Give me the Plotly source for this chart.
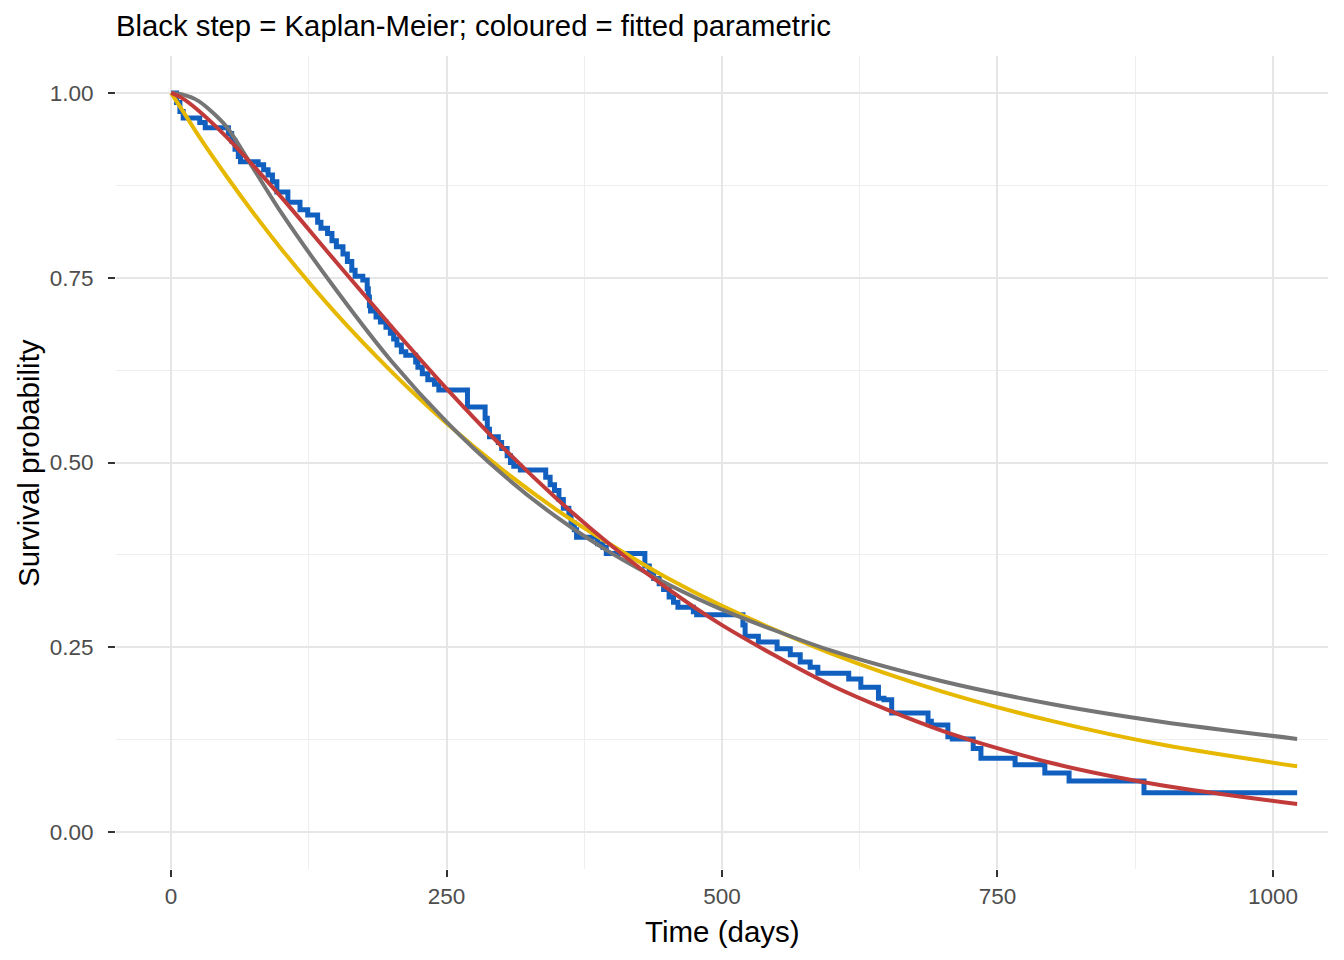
import plotly.graph_objects as go

# Kaplan-Meier step curve (time in days, survival after each drop)
km_time = [0, 5, 8, 11, 26, 31, 52, 55, 58, 61, 63, 79, 84, 88, 92, 96, 106, 117, 124, 133,
           136, 142, 146, 150, 156, 160, 164, 167, 174, 178, 179, 180, 181, 186, 190, 195, 199,
           202, 205, 209, 213, 222, 224, 228, 233, 239, 243, 269, 285, 287, 289, 297, 300, 305,
           308, 311, 317, 340, 344, 348, 352, 356, 361, 363, 366, 368, 387, 392, 395, 430, 434,
           438, 443, 447, 452, 456, 460, 474, 477, 519, 521, 533, 550, 562, 571, 580, 587, 615,
           626, 642, 647, 654, 687, 690, 705, 709, 728, 735, 766, 793, 815, 883, 1022]
km_surv = [1.000, 0.987, 0.975, 0.966, 0.960, 0.953, 0.945, 0.935, 0.924, 0.914, 0.907, 0.903,
           0.896, 0.889, 0.880, 0.866, 0.852, 0.842, 0.835, 0.825, 0.817, 0.810, 0.800, 0.792,
           0.782, 0.772, 0.760, 0.752, 0.747, 0.735, 0.724, 0.712, 0.705, 0.697, 0.690, 0.683,
           0.675, 0.667, 0.659, 0.650, 0.645, 0.636, 0.629, 0.620, 0.612, 0.606, 0.598, 0.575,
           0.560, 0.545, 0.535, 0.527, 0.519, 0.509, 0.500, 0.495, 0.490, 0.480, 0.470, 0.462,
           0.450, 0.438, 0.428, 0.418, 0.409, 0.399, 0.390, 0.385, 0.377, 0.360, 0.350, 0.343,
           0.336, 0.328, 0.318, 0.311, 0.304, 0.298, 0.294, 0.280, 0.265, 0.257, 0.248, 0.240,
           0.230, 0.223, 0.215, 0.207, 0.196, 0.181, 0.179, 0.161, 0.150, 0.145, 0.129, 0.126,
           0.113, 0.100, 0.091, 0.080, 0.069, 0.053, 0.053]

# Fitted parametric curves
fit_time = [0, 10, 25, 50, 75, 100, 150, 200, 250, 300, 350, 400, 450, 500, 600, 700, 800, 900, 1022]
fit_yellow = [1.000, 0.977, 0.942, 0.888, 0.837, 0.789, 0.701, 0.623, 0.553, 0.491, 0.436, 0.388,
              0.344, 0.306, 0.241, 0.190, 0.150, 0.118, 0.089]
fit_grey = [1.000, 0.998, 0.989, 0.955, 0.897, 0.838, 0.733, 0.637, 0.555, 0.485, 0.426, 0.377,
            0.336, 0.301, 0.245, 0.204, 0.173, 0.149, 0.126]
fit_red = [1.000, 0.993, 0.976, 0.941, 0.901, 0.859, 0.771, 0.684, 0.600, 0.522, 0.451, 0.387,
           0.330, 0.280, 0.198, 0.137, 0.093, 0.063, 0.038]

x_ticks = [0, 250, 500, 750, 1000]
y_ticks = [0.0, 0.25, 0.5, 0.75, 1.0]
y_ticklabels = ["0.00", "0.25", "0.50", "0.75", "1.00"]

FONT = "Liberation Sans, Arial, Helvetica, sans-serif"

fig = go.Figure()
fig.add_trace(go.Scatter(x=km_time, y=km_surv, mode="lines", line=dict(color="#1160BF", width=5, shape="hv"),
                         hoverinfo="skip"))
fig.add_trace(go.Scatter(x=fit_time, y=fit_yellow, mode="lines",
                         line=dict(color="#E7B800", width=4, shape="spline", smoothing=0.8)))
fig.add_trace(go.Scatter(x=fit_time, y=fit_grey, mode="lines",
                         line=dict(color="#757575", width=4, shape="spline", smoothing=0.8)))
fig.add_trace(go.Scatter(x=fit_time, y=fit_red, mode="lines",
                         line=dict(color="#C23B3B", width=4, shape="spline", smoothing=0.8)))

fig.update_layout(
    width=1344, height=960,
    margin=dict(l=116, r=16, t=56, b=91),
    paper_bgcolor="white", plot_bgcolor="white",
    showlegend=False,
    font=dict(family=FONT, color="black"),
    title=dict(text="Black step = Kaplan-Meier; coloured = fitted parametric",
               x=116 / 1344, xanchor="left", xref="container",
               y=1 - 26 / 960, yanchor="middle", yref="container",
               font=dict(size=29.3, color="black", family=FONT)),
    annotations=[
        dict(text="Survival probability", xref="paper", yref="paper",
             x=(28 - 116) / 1212, y=(869 - 463) / 813, xanchor="center", yanchor="middle",
             textangle=-90, showarrow=False, font=dict(size=29.5, color="black", family=FONT)),
        dict(text="Time (days)", xref="paper", yref="paper",
             x=0.5, y=(869 - 931) / 813, xanchor="center", yanchor="middle",
             showarrow=False, font=dict(size=29.5, color="black", family=FONT)),
    ],
)
fig.update_xaxes(
    range=[-50, 1050], tickvals=x_ticks, ticktext=[str(v) for v in x_ticks],
    showgrid=True, gridcolor="#e6e6e6", gridwidth=2,
    minor=dict(tickvals=[125, 375, 625, 875], showgrid=True, gridcolor="#eeeeee", gridwidth=1, ticks=""),
    zeroline=False, showline=False,
    ticks="outside", ticklen=7, tickwidth=2, tickcolor="#333333",
    tickfont=dict(size=22.5, color="#4d4d4d", family=FONT), ticklabelstandoff=0,
)
fig.update_yaxes(
    range=[-0.05, 1.05], tickvals=y_ticks, ticktext=y_ticklabels,
    showgrid=True, gridcolor="#e6e6e6", gridwidth=2,
    minor=dict(tickvals=[0.125, 0.375, 0.625, 0.875], showgrid=True, gridcolor="#eeeeee", gridwidth=1, ticks=""),
    zeroline=False, showline=False,
    ticks="outside", ticklen=7, tickwidth=2, tickcolor="#333333",
    tickfont=dict(size=22.5, color="#4d4d4d", family=FONT), ticklabelstandoff=10,
)

fig.write_html("out.html")
